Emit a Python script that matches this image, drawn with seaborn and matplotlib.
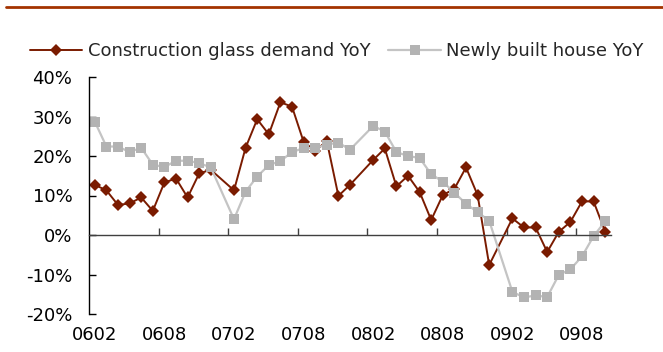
import numpy as np
import pandas as pd
import matplotlib
matplotlib.use("Agg")
import matplotlib.pyplot as plt
from matplotlib.lines import Line2D
from matplotlib.ticker import PercentFormatter
import seaborn as sns

# Monthly periods (yymm); January figures are folded into February, so they are empty
months = (
    ["06%02d" % m for m in range(2, 13)]
    + ["07%02d" % m for m in range(1, 13)]
    + ["08%02d" % m for m in range(1, 13)]
    + ["09%02d" % m for m in range(1, 11)]
)

# Construction glass demand, YoY %
glass_yoy = [
    12.7, 11.3, 7.6, 8.0, 9.5, 6.1, 13.3, 14.3, 9.5, 15.6, 16.5,
    None, 11.3, 22.1, 29.3, 25.5, 33.6, 32.5, 23.6, 21.3, 23.8, 9.9, 12.7,
    None, 19.0, 21.9, 12.3, 15.0, 10.9, 3.8, 10.1, 11.7, 17.1, 10.1, -7.6,
    None, 4.2, 1.9, 1.9, -4.3, 0.8, 3.3, 8.5, 8.5, 0.8,
]

# Newly built houses, YoY %
house_yoy = [
    28.7, 22.4, 22.4, 21.0, 22.1, 17.8, 17.2, 18.8, 18.8, 18.2, 17.1,
    None, 4.0, 11.0, 14.8, 17.7, 18.7, 21.0, 22.0, 22.0, 22.9, 23.4, 21.6,
    None, 27.6, 26.2, 21.0, 20.0, 19.5, 15.4, 13.5, 10.7, 7.9, 5.8, 3.6,
    None, -14.4, -15.8, -15.3, -15.7, -10.1, -8.7, -5.4, -0.3, 3.5,
]

tick_labels = ["0602", "0608", "0702", "0708", "0802", "0808", "0902", "0908"]

series_names = ["Construction glass demand YoY", "Newly built house YoY"]

RED = "#7A1B00"
GREY_MARK = "#B3B3B3"
GREY_LINE = "#C4C4C4"
FONT_SIZE = 13

sns.set_theme(style="white")
plt.rcParams["font.family"] = ["DejaVu Sans"]
plt.rcParams["axes.unicode_minus"] = False

df = pd.DataFrame({"month": months, "glass": glass_yoy, "house": house_yoy})
df["pos"] = np.arange(len(df))

fig = plt.figure(figsize=(6.63, 3.52), dpi=100)
ax = fig.add_axes([89 / 663, 1 - 314 / 352, (611 - 89) / 663, (314 - 77) / 352])

# Empty months are dropped so the lines bridge over them
sns.lineplot(data=df.dropna(subset=["glass"]), x="pos", y="glass", ax=ax,
             color=RED, linewidth=1.4, marker="D", markersize=6.6,
             markeredgewidth=0, label=series_names[0])
sns.lineplot(data=df.dropna(subset=["house"]), x="pos", y="house", ax=ax,
             color=GREY_LINE, linewidth=1.6, marker="s", markersize=7.0,
             markerfacecolor=GREY_MARK, markeredgewidth=0,
             label=series_names[1])

ax.set_xlim(-0.5, len(months) - 0.5)
ax.set_ylim(-20, 40)
ax.set_yticks(np.arange(-20, 41, 10))
ax.yaxis.set_major_formatter(PercentFormatter(xmax=100, decimals=0))
ax.set_xlabel("")
ax.set_ylabel("")

for side in ("top", "right"):
    ax.spines[side].set_visible(False)
ax.spines["left"].set_color("black")
ax.spines["left"].set_linewidth(1.0)

# Category axis line crosses at 0%, tick marks sit between categories
ax.spines["bottom"].set_position(("data", 0))
ax.spines["bottom"].set_color("#404040")
ax.spines["bottom"].set_linewidth(1.0)
ax.set_xticks(np.arange(5.5, len(months), 6))
ax.tick_params(axis="x", which="major", direction="in", length=5, width=1,
               color="#404040", labelbottom=False, bottom=True)
ax.tick_params(axis="y", which="major", direction="in", length=5, width=1,
               color="black", left=True, labelsize=FONT_SIZE, pad=12,
               labelcolor="black")

# Category labels along the bottom of the plot area
label_pos = [months.index(t) for t in tick_labels]
sec = ax.secondary_xaxis("bottom")
sec.set_xticks(label_pos, tick_labels)
sec.tick_params(axis="x", length=0, labelsize=FONT_SIZE, pad=9,
                labelcolor="black")
sec.spines["bottom"].set_visible(False)

handles, labels = ax.get_legend_handles_labels()
ax.legend_.remove()
fig.legend(handles, labels, loc="center left",
           bbox_to_anchor=(30 / 663, 1 - 51 / 352), ncol=2, frameon=False,
           fontsize=FONT_SIZE, handlelength=2.9, handletextpad=0.3,
           columnspacing=1.0, borderpad=0, borderaxespad=0)

# Header rule
fig.add_artist(Line2D([6 / 663, 1.0], [1 - 7 / 352, 1 - 7 / 352],
                      transform=fig.transFigure, color="#A33300",
                      linewidth=2.0))

fig.savefig("out.png", dpi=100)
